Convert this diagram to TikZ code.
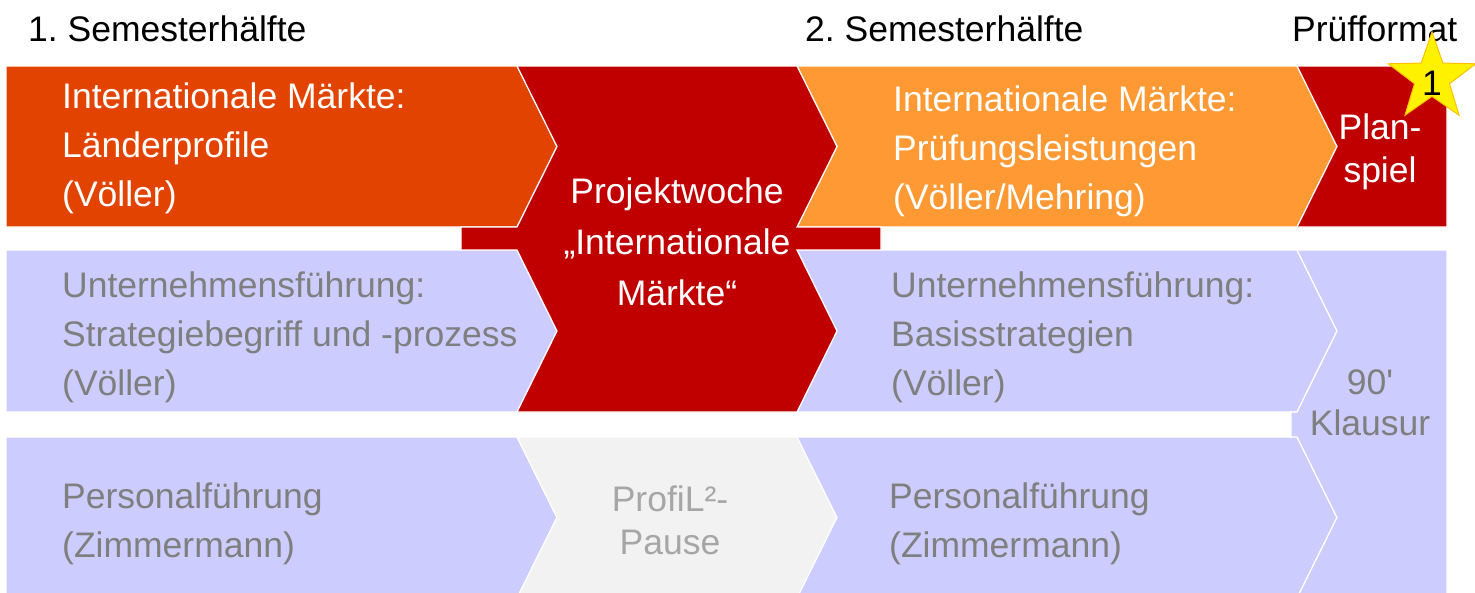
\documentclass[tikz,border=0pt]{standalone}
\usepackage{fontspec}
\setmainfont{Liberation Sans}
\usepackage{tikz}
\usetikzlibrary{shapes.geometric}
\frenchspacing
\definecolor{orangeDark}{RGB}{226,68,0}
\definecolor{orangeLight}{RGB}{255,153,51}
\definecolor{redBox}{RGB}{192,0,0}
\definecolor{lavender}{RGB}{204,204,255}
\definecolor{greyBox}{RGB}{242,242,242}
\definecolor{greyText}{RGB}{127,127,127}
\definecolor{greyLight}{RGB}{166,166,166}
\definecolor{starEdge}{RGB}{255,192,0}

\begin{document}
\begin{tikzpicture}[line cap=round,line join=miter,x=1pt,y=-1pt,
    box/.style={draw=white,line width=1.2pt},
    txt/.style={font=\fontsize{35.5}{49}\selectfont,inner sep=0pt,align=left,anchor=west},
    ctxt/.style={font=\fontsize{35.5}{43}\selectfont,inner sep=0pt,align=center}]
    \useasboundingbox (0,0) rectangle (1475,592);
    % Ueberschriften
    \node[txt,text=black] (sem1) at (28,29) {1. Semesterhälfte};
    \node[txt,text=black] (sem2) at (805,29) {2. Semesterhälfte};
    \node[txt,text=black] (pruef) at (1292,29) {Prüfformat};
    % Zeile 1
    \draw [box,fill=orangeDark] (6,66)-- (517,66)-- (557,146.5)-- (517,227)-- (6,227)-- cycle;
    \draw [box,fill=orangeLight] (797,66)-- (1297,66)-- (1337,146.5)-- (1297,227)-- (797,227)-- (837,146.5)-- cycle;
    \draw [box,fill=redBox] (1297,66)-- (1447,66)-- (1447,227)-- (1297,227)-- (1337,146.5)-- cycle;
    % Zeile 2
    \draw [box,fill=lavender] (6,250)-- (517,250)-- (557,331)-- (517,412)-- (6,412)-- cycle;
    \draw [box,fill=lavender] (797,250)-- (1297,250)-- (1337,331)-- (1297,412)-- (797,412)-- (837,331)-- cycle;
    % Zeile 3
    \draw [box,fill=lavender] (6,437)-- (517,437)-- (557,517.5)-- (517,598)-- (6,598)-- cycle;
    \draw [box,fill=greyBox] (517,437)-- (797,437)-- (837,517.5)-- (797,598)-- (517,598)-- (557,517.5)-- cycle;
    \draw [box,fill=lavender] (797,437)-- (1297,437)-- (1337,517.5)-- (1297,598)-- (797,598)-- (837,517.5)-- cycle;
    % Projektwoche
    \draw [box,fill=redBox] (517,66)-- (797,66)-- (837,146.5)-- (797,227)-- (881,227)-- (881,250)-- (797,250)-- (837,331)-- (797,412)-- (517,412)-- (557,331)-- (517,250)-- (461,250)-- (461,227)-- (517,227)-- (557,146.5)-- cycle;
    % Klausur
    \draw [box,fill=lavender] (1297,250)-- (1447,250)-- (1447,598)-- (1297,598)-- (1337,517.5)-- (1297,437)-- (1291,437)-- (1291,412)-- (1297,412)-- (1337,331)-- cycle;
    % Texte
    \node[txt,text=white] (imL) at (62,148) {Internationale Märkte:\\Länderprofile\\(Völler)};
    \node[txt,text=greyText] (ufL) at (62,337) {Unternehmensführung:\\Strategiebegriff und -prozess\\(Völler)};
    \node[txt,text=greyText] (pfL) at (62,524) {Personalführung\\(Zimmermann)};
    \node[ctxt,text=white,font=\fontsize{35.5}{51}\selectfont] (pw) at (677,241.5) {Projektwoche\\„Internationale\\Märkte“};
    \node[ctxt,text=greyLight] (pause) at (670,520) {ProfiL²-\\Pause};
    \node[txt,text=white] (imR) at (893,151) {Internationale Märkte:\\Prüfungsleistungen\\(Völler/Mehring)};
    \node[txt,text=greyText] (ufR) at (891,337) {Unternehmensführung:\\Basisstrategien\\(Völler)};
    \node[txt,text=greyText] (pfR) at (889,524) {Personalführung\\(Zimmermann)};
    \node[ctxt,text=white] (plan) at (1380,152) {Plan-\\spiel};
    \node[ctxt,text=greyText,font=\fontsize{35.5}{41}\selectfont] (klaus) at (1370,403) {90\textquotesingle\\Klausur};
    % Stern
    \node[star,star points=5,star point ratio=2.5,minimum size=92pt,inner sep=0pt,fill=yellow,draw=starEdge,line width=1pt] (stern) at (1432,78) {};
    \node[ctxt,text=black] (eins) at (1432,83) {1};
\end{tikzpicture}
\end{document}
